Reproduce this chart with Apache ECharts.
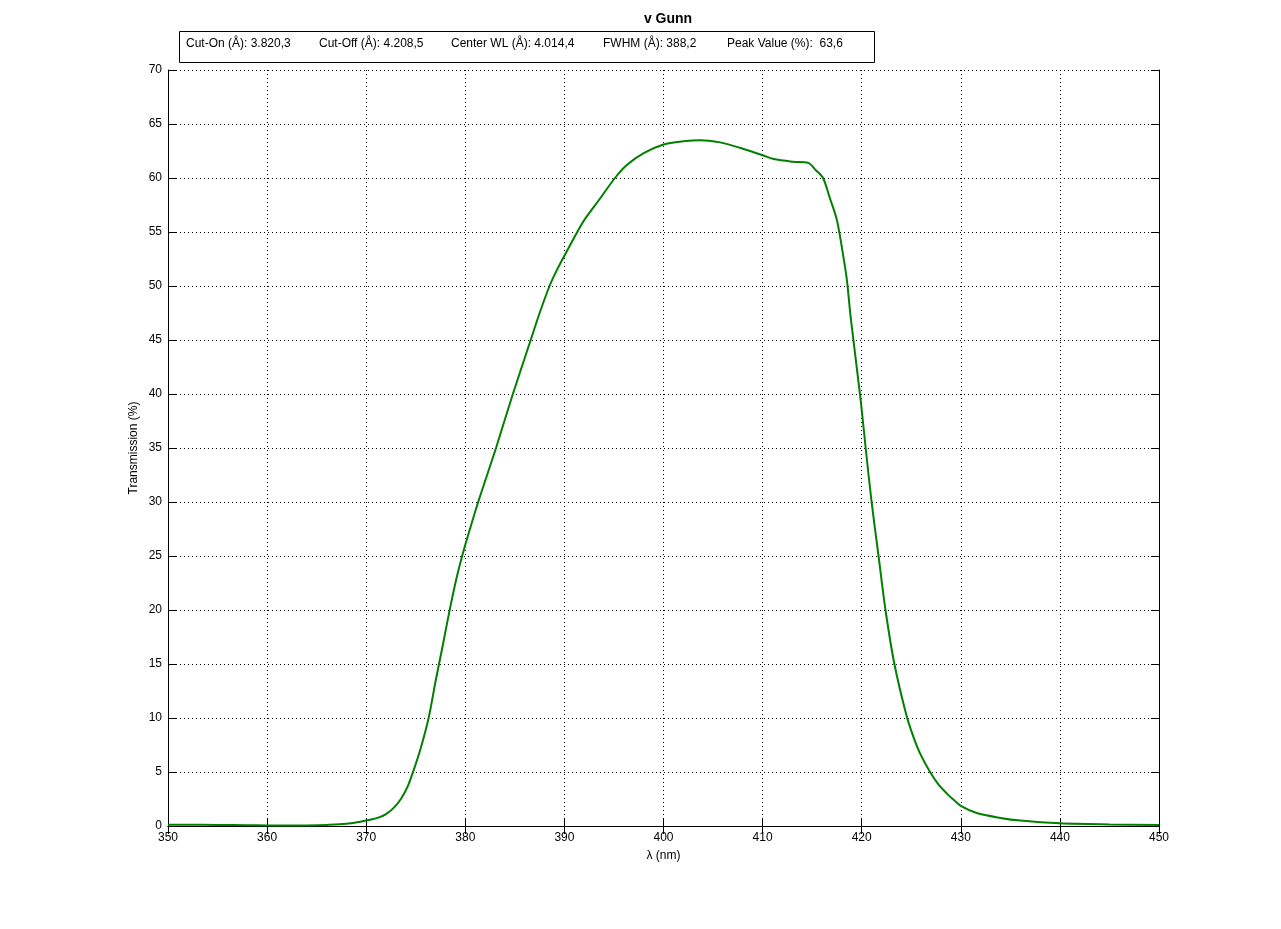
<!DOCTYPE html>
<html>
<head>
<meta charset="utf-8">
<script src="https://cdn.jsdelivr.net/npm/echarts@6/dist/echarts.min.js"></script>
<style>
html,body{margin:0;padding:0;background:#fff;}
#chart{width:1281px;height:929px;}
</style>
</head>
<body>
<div id="chart"></div>
<script>
// Wavelength (nm) and transmission (%)
const wavelength = [350, 352, 355, 358, 360, 362, 364, 366, 368, 369.4, 370.5, 371.3, 372.0, 372.8, 373.5, 374.2, 374.8, 375.5, 376.3, 377.0, 377.7, 378.4, 379.1, 379.8, 380.5, 381.3, 382.2, 383.1, 384.8, 386.6, 387.5, 388.5, 389.2, 390.0, 391.3, 392.0, 393.6, 395.1, 396.3, 398.0, 400.0, 402.0, 403.7, 405.7, 407.7, 410.0, 411.1, 413.1, 414.6, 415.4, 416.1, 416.8, 417.5, 418.1, 418.5, 418.9, 419.9, 420.4, 421.0, 421.7, 422.4, 423.3, 424.5, 425.2, 425.9, 426.9, 427.7, 428.6, 429.3, 430.0, 431.6, 434.0, 436.0, 440.0, 445.0, 450.0];
const transmission = [0.12, 0.12, 0.10, 0.07, 0.05, 0.04, 0.05, 0.10, 0.20, 0.40, 0.60, 0.80, 1.1, 1.7, 2.5, 3.7, 5.2, 7.2, 10.0, 13.4, 16.6, 19.9, 22.9, 25.4, 27.6, 30.0, 32.5, 35.0, 40.0, 45.0, 47.5, 50.0, 51.4, 52.8, 55.0, 56.1, 58.1, 60.0, 61.2, 62.3, 63.1, 63.4, 63.5, 63.3, 62.8, 62.1, 61.75, 61.5, 61.4, 60.7, 60.0, 58.1, 56.1, 53.0, 50.6, 47.0, 39.4, 35.0, 30.0, 25.0, 20.0, 15.0, 10.3, 8.3, 6.7, 5.0, 3.9, 3.0, 2.4, 1.86, 1.2, 0.75, 0.5, 0.25, 0.15, 0.1];

const chartTitle = 'v Gunn';
const infoLabels = ['Cut-On (Å): 3.820,3', 'Cut-Off (Å): 4.208,5', 'Center WL (Å): 4.014,4', 'FWHM (Å): 388,2', 'Peak Value (%):  63,6'];
const xName = 'λ (nm)';
const yName = 'Transmission (%)';

const infoX = [186, 319, 451, 603, 727];
const FONT = 'Liberation Sans, Arial, sans-serif';

const chart = echarts.init(document.getElementById('chart'));

const seriesData = wavelength.map((w, i) => [w, transmission[i]]);

const axisLineStyle = { show: true, lineStyle: { color: '#000', width: 1 } };
const tickStyle = { show: true, inside: true, length: 8, lineStyle: { color: '#000' } };
const splitStyle = { show: true, lineStyle: { color: '#000', type: [1, 3], width: 1 } };

const graphicEls = [{
  type: 'rect',
  shape: { x: 179.5, y: 31.5, width: 695, height: 31 },
  style: { fill: '#fff', stroke: '#000', lineWidth: 1 },
  z: 10
}];
infoLabels.forEach((t, i) => {
  graphicEls.push({
    type: 'text',
    x: infoX[i], y: 44,
    style: { text: t, fill: '#000', font: '12px ' + FONT, verticalAlign: 'middle', align: 'left' },
    z: 11
  });
});

chart.setOption({
  animation: false,
  backgroundColor: '#fff',
  title: {
    text: chartTitle,
    left: 663, top: 7,
    textAlign: 'center',
    textStyle: { fontSize: 14, fontWeight: 'bold', color: '#000', fontFamily: FONT }
  },
  grid: { left: 168, right: 122, top: 70, bottom: 103, containLabel: false },
  graphic: graphicEls,
  xAxis: [{
    type: 'value', min: 350, max: 450, interval: 10, position: 'bottom',
    name: xName, nameLocation: 'middle', nameGap: 24, nameMoveOverlap: false,
    nameTextStyle: { fontSize: 12, color: '#000', fontFamily: FONT },
    axisLine: axisLineStyle, axisTick: tickStyle,
    axisLabel: { color: '#000', fontSize: 12, fontFamily: FONT, margin: 6 },
    splitLine: splitStyle
  }, {
    type: 'value', min: 350, max: 450, interval: 10, position: 'top',
    axisLine: axisLineStyle, axisTick: tickStyle,
    axisLabel: { show: false }, splitLine: { show: false }
  }],
  yAxis: [{
    type: 'value', min: 0, max: 70, interval: 5, position: 'left',
    name: yName, nameLocation: 'middle', nameGap: 28, nameMoveOverlap: false,
    nameTextStyle: { fontSize: 12, color: '#000', fontFamily: FONT },
    axisLine: axisLineStyle, axisTick: tickStyle,
    axisLabel: { color: '#000', fontSize: 12, fontFamily: FONT, margin: 6 },
    splitLine: splitStyle
  }, {
    type: 'value', min: 0, max: 70, interval: 5, position: 'right',
    axisLine: axisLineStyle, axisTick: tickStyle,
    axisLabel: { show: false }, splitLine: { show: false }
  }],
  series: [{
    type: 'line',
    xAxisIndex: 0, yAxisIndex: 0,
    data: seriesData,
    showSymbol: false,
    smooth: 0.3,
    lineStyle: { color: '#008000', width: 2 },
    itemStyle: { color: '#008000' }
  }]
});
</script>
</body>
</html>
